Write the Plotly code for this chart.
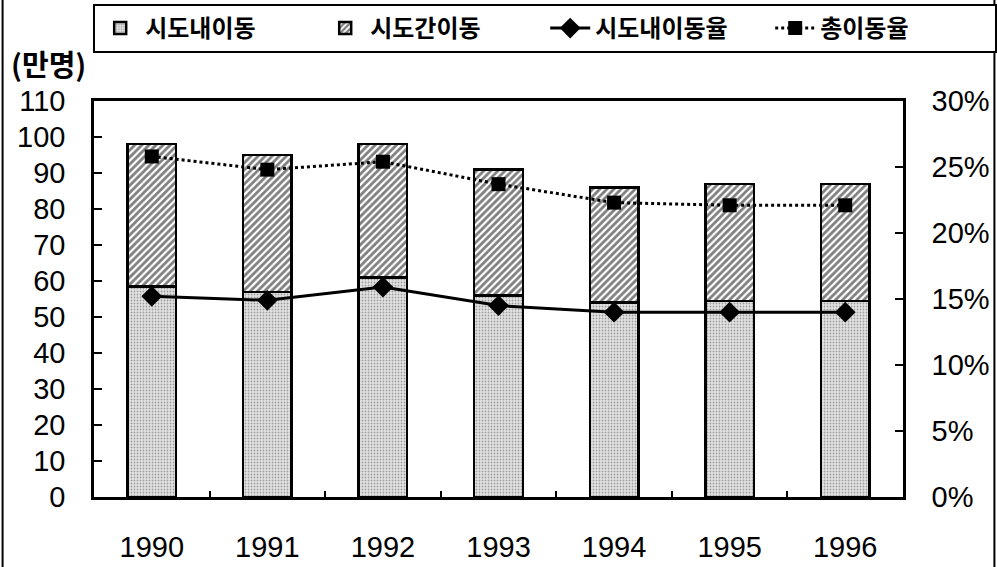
import plotly.graph_objects as go

years = ["1990", "1991", "1992", "1993", "1994", "1995", "1996"]
within = [58.5, 57.0, 61.0, 56.0, 54.0, 54.5, 54.5]
between = [39.5, 38.0, 37.0, 35.0, 32.0, 32.5, 32.5]
within_rate = [0.152, 0.149, 0.159, 0.145, 0.140, 0.140, 0.140]
total_rate = [0.258, 0.248, 0.254, 0.237, 0.223, 0.221, 0.221]

names = ["시도내이동", "시도간이동", "시도내이동율", "총이동율"]
left_ticks = list(range(0, 111, 10))
right_ticks = [0, 0.05, 0.10, 0.15, 0.20, 0.25, 0.30]

FONT = "Liberation Sans, Arial, sans-serif"
KFONT = "Noto Sans CJK KR, sans-serif"

fig = go.Figure()
fig.add_trace(go.Bar(
    x=years, y=within, name=names[0], width=0.42,
    marker=dict(color="#e2e2e2", line=dict(color="black", width=2.5),
                pattern=dict(shape=".", fgcolor="#555555", bgcolor="#e4e4e4",
                             size=3, solidity=0.3)),
))
fig.add_trace(go.Bar(
    x=years, y=between, name=names[1], width=0.42,
    marker=dict(color="white", line=dict(color="black", width=2.5),
                pattern=dict(shape="/", fgcolor="black", bgcolor="white",
                             size=5, solidity=0.55)),
))
fig.add_trace(go.Scatter(
    x=years, y=within_rate, name=names[2], yaxis="y2", mode="lines+markers",
    line=dict(color="black", width=3),
    marker=dict(symbol="diamond", size=16, color="black"),
))
fig.add_trace(go.Scatter(
    x=years, y=total_rate, name=names[3], yaxis="y2", mode="lines+markers",
    line=dict(color="black", width=3, dash="dot"),
    marker=dict(symbol="square", size=14, color="black"),
))

fig.update_layout(
    width=997, height=567,
    margin=dict(l=94, r=94, t=101, b=70, autoexpand=False),
    barmode="stack",
    plot_bgcolor="white", paper_bgcolor="white",
    font=dict(family=FONT, size=28, color="black"),
    showlegend=True,
    legend=dict(
        orientation="h", x=-0.001, xanchor="left", y=1.245, yanchor="top",
        bordercolor="black", borderwidth=2, bgcolor="white",
        font=dict(family=KFONT, size=24, color="black", weight="bold"),
        entrywidth=170, traceorder="normal", itemwidth=40,
        tracegroupgap=0,
    ),
    xaxis=dict(
        type="category", showline=True, linecolor="black", linewidth=2.5,
        mirror=True, ticks="inside", ticklen=6, tickwidth=2, tickcolor="black",
        tickson="boundaries", showgrid=False, ticklabelstandoff=22,
        tickfont=dict(family=FONT, size=29), automargin=False,
    ),
    yaxis=dict(
        range=[0, 110], tickvals=left_ticks, showline=True, linecolor="black",
        linewidth=2.5, ticks="inside", ticklen=8, tickwidth=2, tickcolor="black",
        showgrid=False, zeroline=False, ticklabelstandoff=20,
        tickfont=dict(family=FONT, size=29), automargin=False,
    ),
    yaxis2=dict(
        range=[0, 0.30], tickvals=right_ticks, tickformat=".0%", overlaying="y",
        side="right", showline=True, linecolor="black", linewidth=2.5,
        ticks="inside", ticklen=8, tickwidth=2, tickcolor="black",
        showgrid=False, zeroline=False, ticklabelstandoff=20,
        tickfont=dict(family=FONT, size=29), automargin=False,
    ),
    annotations=[dict(
        text="(만명)", xref="paper", yref="paper", x=-0.105, y=1.096,
        xanchor="left", yanchor="middle", showarrow=False,
        font=dict(family=KFONT, size=29, color="black", weight="bold"),
    )],
    shapes=[
        dict(type="line", xref="paper", yref="paper", x0=-0.113, x1=-0.113,
             y0=-0.2, y1=1.3, line=dict(color="black", width=2)),
        dict(type="line", xref="paper", yref="paper", x0=1.113, x1=1.113,
             y0=-0.2, y1=1.3, line=dict(color="black", width=2)),
    ],
)

fig.write_html(
    "out.html",
    config={"displayModeBar": False},
    post_script="document.body.style.margin='0px';document.body.style.overflow='hidden';",
)
